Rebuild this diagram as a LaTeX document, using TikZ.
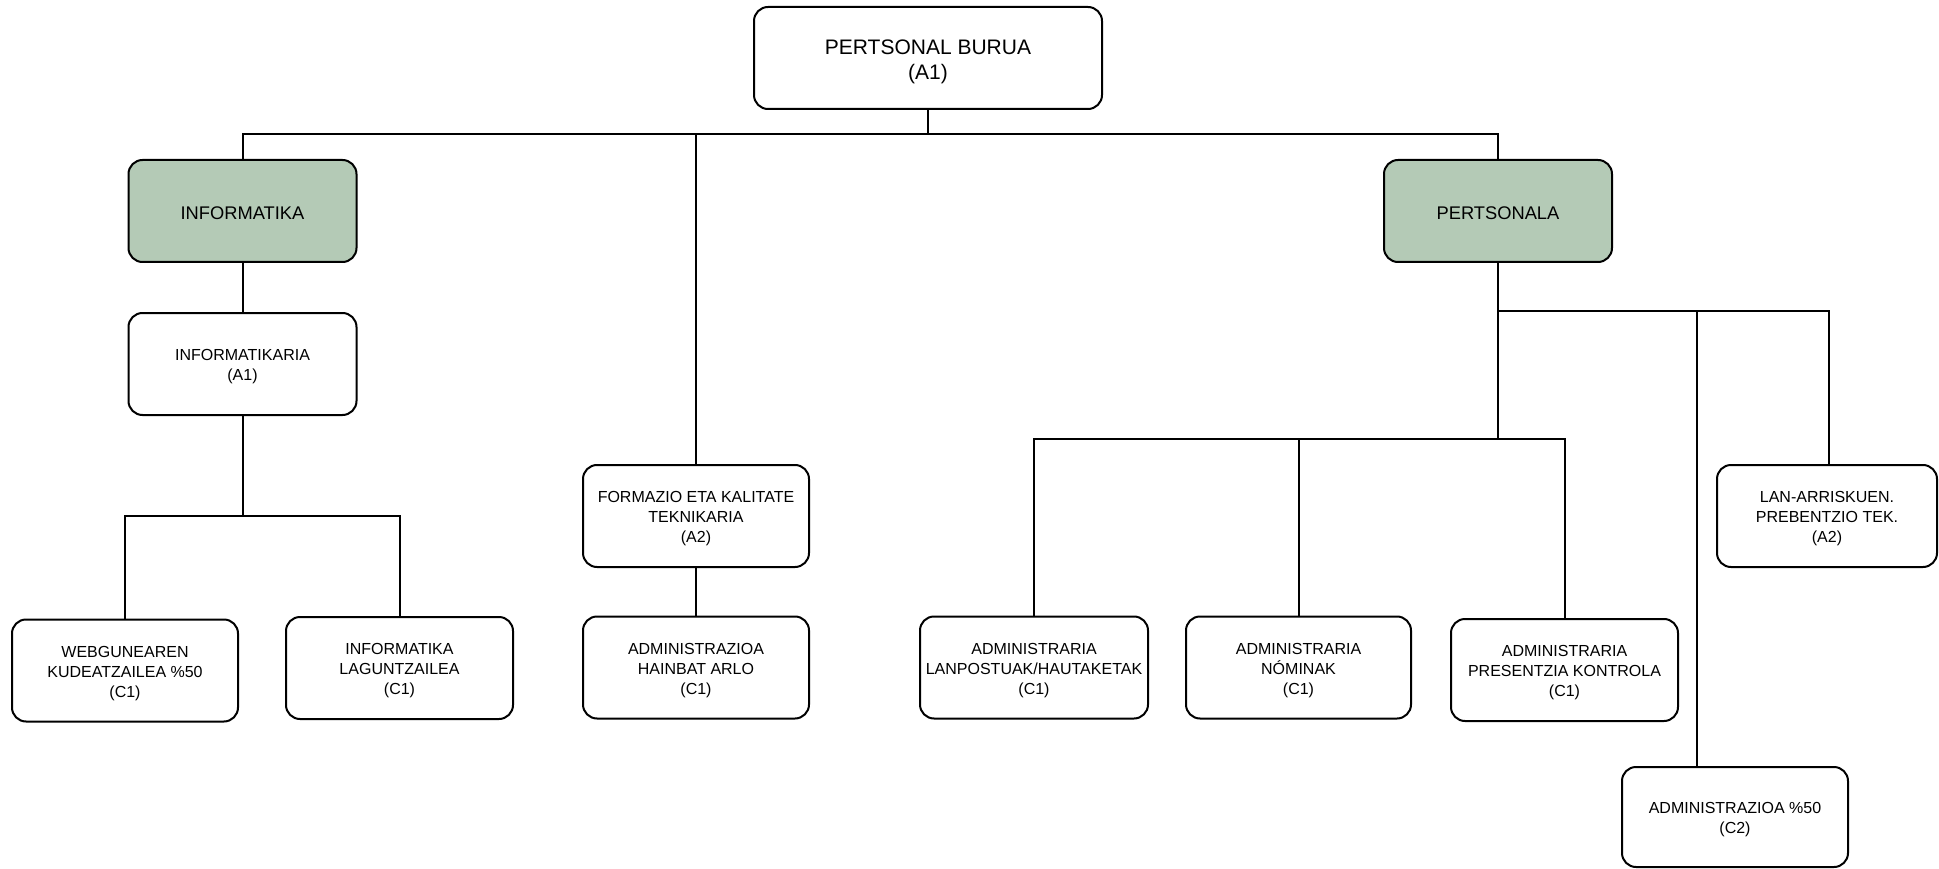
\documentclass[tikz,border=0pt]{standalone}
\usepackage{fontspec}
\setmainfont{Liberation Sans}
\begin{document}
\begin{tikzpicture}[x=1pt,y=-1pt,
  box/.style={draw=black,line width=2pt,rounded corners=14pt,fill=white,
    inner sep=0pt,minimum width=228pt,minimum height=102pt},
  greenbox/.style={box,fill=boxgreen},
  topbox/.style={box,minimum width=348pt},
  txt/.style={align=center,inner sep=0pt,text=black,font=\fontsize{16}{20}\selectfont},
  gtxt/.style={txt,font=\fontsize{18.3}{21}\selectfont},
  ttxt/.style={txt,font=\fontsize{21}{25.5}\selectfont},
  conn/.style={line width=2pt,draw=black}]
\definecolor{boxgreen}{RGB}{180,202,182}
\useasboundingbox (0,0) rectangle (1939,869);
% boxes
\node[topbox] (top) at (928,58) {};
\node[greenbox] (inf) at (242.5,211) {};
\node[greenbox] (pers) at (1498,211) {};
\node[box] (infk) at (242.5,364) {};
\node[box,minimum width=226pt] (web) at (125,670.5) {};
\node[box,minimum width=227pt] (lag) at (399.5,668) {};
\node[box,minimum width=226pt] (form) at (696,516) {};
\node[box,minimum width=226pt] (hain) at (696,667.5) {};
\node[box] (lanp) at (1034,667.5) {};
\node[box,minimum width=225pt] (nom) at (1298.5,667.5) {};
\node[box,minimum width=227pt] (pres) at (1564.5,670) {};
\node[box,minimum width=220pt] (lan) at (1827,516) {};
\node[box,minimum width=226pt,minimum height=100pt] (adm) at (1735,817) {};
% texts
\node[ttxt] (top-t) at ([yshift=-4pt]top.center) {PERTSONAL BURUA\\(A1)};
\node[gtxt] (inf-t) at ([yshift=-2pt]inf.center) {INFORMATIKA};
\node[gtxt] (pers-t) at ([yshift=-2pt]pers.center) {PERTSONALA};
\node[txt] (infk-t) at ([yshift=-3pt]infk.center) {INFORMATIKARIA\\(A1)};
\node[txt] (web-t) at ([yshift=-3pt]web.center) {WEBGUNEAREN\\KUDEATZAILEA \%50\\(C1)};
\node[txt] (lag-t) at ([yshift=-3pt]lag.center) {INFORMATIKA\\LAGUNTZAILEA\\(C1)};
\node[txt] (form-t) at ([yshift=-3pt]form.center) {FORMAZIO ETA KALITATE\\TEKNIKARIA\\(A2)};
\node[txt] (hain-t) at ([yshift=-3pt]hain.center) {ADMINISTRAZIOA\\HAINBAT ARLO\\(C1)};
\node[txt] (lanp-t) at ([yshift=-3pt]lanp.center) {ADMINISTRARIA\\LANPOSTUAK/HAUTAKETAK\\(C1)};
\node[txt] (nom-t) at ([yshift=-3pt]nom.center) {ADMINISTRARIA\\NÓMINAK\\(C1)};
\node[txt] (pres-t) at ([yshift=-3pt]pres.center) {ADMINISTRARIA\\PRESENTZIA KONTROLA\\(C1)};
\node[txt] (lan-t) at ([yshift=-3pt]lan.center) {LAN-ARRISKUEN.\\PREBENTZIO TEK.\\(A2)};
\node[txt] (adm-t) at ([yshift=-3pt]adm.center) {ADMINISTRAZIOA \%50\\(C2)};
% junction coordinates
\coordinate (b0) at (928,134);
\coordinate (b1) at (242.5,516);
\coordinate (b2) at (1498,439);
\coordinate (b3) at (1498,311);
\coordinate (b4) at (1697,311);
\coordinate (b5) at (1829,311);
% connectors
\draw[conn] (top.south) -- (b0);
\draw[conn] (inf.north) -- (inf.north |- b0) -- (pers.north |- b0) -- (pers.north);
\draw[conn] (form.north |- b0) -- (form.north);
\draw[conn] (inf.south) -- (infk.north);
\draw[conn] (infk.south) -- (b1);
\draw[conn] (web.north) -- (web.north |- b1) -- (lag.north |- b1) -- (lag.north);
\draw[conn] (form.south) -- (hain.north);
\draw[conn] (pers.south) -- (b2);
\draw[conn] (b3) -- (b5) -- (b5 |- lan.north);
\draw[conn] (b4) -- (b4 |- adm.north);
\draw[conn] (lanp.north) -- (lanp.north |- b2) -- (pres.north |- b2) -- (pres.north);
\draw[conn] (nom.north |- b2) -- (nom.north);
\end{tikzpicture}
\end{document}
